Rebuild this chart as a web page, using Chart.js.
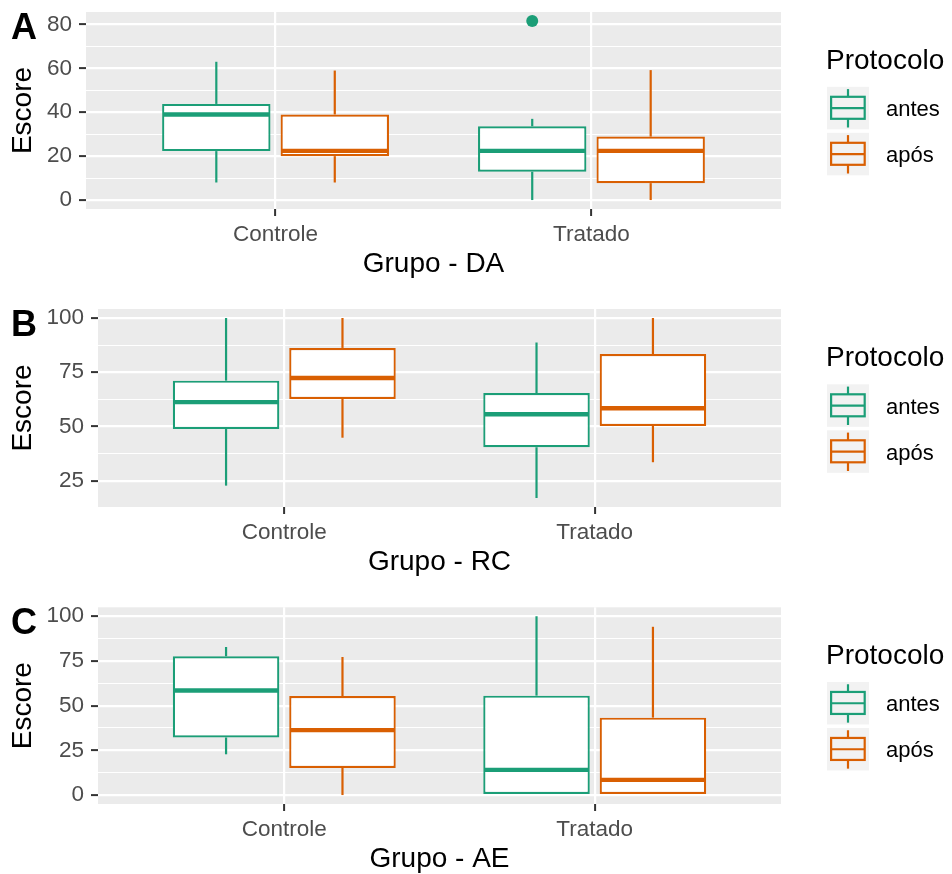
<!DOCTYPE html>
<html>
<head>
<meta charset="utf-8">
<script src="https://cdn.jsdelivr.net/npm/chart.js@4.4.1/dist/chart.umd.min.js"></script>
<style>
    html, body { margin: 0; padding: 0; background: #fff; overflow: hidden; }
    #wrap { position: relative; width: 952px; height: 874px; overflow: hidden; }
    canvas { position: absolute; left: 0; }
</style>
</head>
<body>
<div id="wrap">
    <canvas id="painelA" width="952" height="290" style="top:0px"></canvas>
    <canvas id="painelB" width="952" height="298" style="top:290px"></canvas>
    <canvas id="painelC" width="952" height="305" style="top:580px"></canvas>
</div>
<script>
const grupos = ['Controle', 'Tratado'];
const protocolos = ['antes', 'após'];
const cores = ['#1B9E77', '#D95F02'];

// cinco números por grupo: [mín, Q1, mediana, Q3, máx]
const daAntes = [[8, 22.3, 39, 43.8, 63], [0, 12.9, 22.4, 33.6, 37]];
const daApos = [[8, 20, 22.4, 39, 59], [0, 7.7, 22.4, 28.9, 59.2]];
const daAntesOut = [[], [81.6]];
const daAposOut = [[], []];

const rcAntes = [[22.7, 48.8, 61.2, 71.1, 100], [17, 40.4, 55.6, 65.4, 88.7]];
const rcApos = [[44.8, 62.7, 72.3, 86.2, 100], [33.5, 50.2, 58.4, 83.4, 100]];
const rcAntesOut = [[], []];
const rcAposOut = [[], []];

const aeAntes = [[22.8, 32.2, 58.5, 77.6, 82.8], [0, 0, 14.1, 55.6, 100]];
const aeApos = [[0, 15.2, 36.3, 55.4, 77.2], [0, 0, 8.5, 43.3, 94.1]];
const aeAntesOut = [[], []];
const aeAposOut = [[], []];

// marcas do eixo y (rótulo vazio = linha secundária)
const daTicks = [0, 10, 20, 30, 40, 50, 60, 70, 80];
const daRotulos = ['0', '', '20', '', '40', '', '60', '', '80'];
const rcTicks = [25, 37.5, 50, 62.5, 75, 87.5, 100];
const rcRotulos = ['25', '', '50', '', '75', '', '100'];
const aeTicks = [0, 12.5, 25, 37.5, 50, 62.5, 75, 87.5, 100];
const aeRotulos = ['0', '', '25', '', '50', '', '75', '', '100'];

const fonte = '"Liberation Sans", Arial, Helvetica, sans-serif';

function linha(ctx, x1, y1, x2, y2) {
    ctx.beginPath();
    ctx.moveTo(x1, y1);
    ctx.lineTo(x2, y2);
    ctx.stroke();
}

function criarPainel(id, letra, titulo, antes, apos, outAntes, outApos, ticks, rotulos, topo, larguraY) {
    const series = [antes, apos];
    const outs = [outAntes, outApos];
    const valores = antes.concat(apos).flat().concat(outAntes.flat(), outApos.flat());
    const lo = Math.min(...valores);
    const hi = Math.max(...valores);
    const margem = (hi - lo) * 0.05;

    const pluginPainel = {
        id: 'painel' + letra,
        beforeDraw(chart) {
            const {ctx, chartArea: a} = chart;
            ctx.save();
            ctx.fillStyle = '#EBEBEB';
            ctx.fillRect(a.left, a.top, a.right - a.left, a.bottom - a.top);
            ctx.restore();
        },
        afterDatasetsDraw(chart) {
            const {ctx} = chart;
            const y = chart.scales.y;
            ctx.save();
            series.forEach((s, k) => {
                const meta = chart.getDatasetMeta(k);
                meta.data.forEach((bar, i) => {
                    const v = s[i];
                    ctx.strokeStyle = cores[k];
                    ctx.lineWidth = 2.2;
                    if (v[4] > v[3]) linha(ctx, bar.x, y.getPixelForValue(v[3]), bar.x, y.getPixelForValue(v[4]));
                    if (v[1] > v[0]) linha(ctx, bar.x, y.getPixelForValue(v[1]), bar.x, y.getPixelForValue(v[0]));
                    const ym = y.getPixelForValue(v[2]);
                    ctx.lineWidth = 4.4;
                    linha(ctx, bar.x - bar.width / 2 + 1, ym, bar.x + bar.width / 2 - 1, ym);
                    ctx.fillStyle = cores[k];
                    outs[k][i].forEach(o => {
                        ctx.beginPath();
                        ctx.arc(bar.x, y.getPixelForValue(o), 6, 0, Math.PI * 2);
                        ctx.fill();
                    });
                });
            });
            ctx.restore();
        },
        afterDraw(chart) {
            const {ctx, chartArea: a} = chart;
            ctx.save();
            // letra do painel
            ctx.fillStyle = '#000';
            ctx.textBaseline = 'alphabetic';
            ctx.textAlign = 'left';
            ctx.font = 'bold 36px ' + fonte;
            ctx.fillText(letra, 11, a.top + 26.7);
            // legenda
            const cy = (a.top + a.bottom) / 2 + 0.8;
            ctx.font = '28px ' + fonte;
            ctx.fillText('Protocolo', 826, cy - 42.8);
            protocolos.forEach((p, k) => {
                const t = cy - 24.5 + k * 46;
                ctx.fillStyle = '#F2F2F2';
                ctx.fillRect(827, t, 42, 42.5);
                ctx.strokeStyle = cores[k];
                ctx.lineWidth = 2.2;
                const cx = 848;
                linha(ctx, cx, t + 2.3, cx, t + 10);
                linha(ctx, cx, t + 32, cx, t + 40.7);
                ctx.strokeRect(831.1, t + 10, 33.6, 22);
                linha(ctx, 831.1, t + 21.3, 864.7, t + 21.3);
                ctx.fillStyle = '#000';
                ctx.font = '22px ' + fonte;
                ctx.fillText(p, 886, t + 29.5);
            });
            ctx.restore();
        }
    };

    new Chart(document.getElementById(id), {
        type: 'bar',
        data: {
            datasets: series.map((s, k) => ({
                label: protocolos[k],
                data: s.map((v, i) => ({x: i + 1, y: [v[1], v[3]]})),
                backgroundColor: '#FFFFFF',
                borderColor: cores[k],
                borderWidth: 2.2,
                borderSkipped: false,
                categoryPercentage: 0.75,
                barPercentage: 0.915
            }))
        },
        options: {
            responsive: false,
            animation: false,
            layout: {padding: {top: topo, right: 171, left: 0, bottom: 0}},
            plugins: {legend: {display: false}, tooltip: {enabled: false}},
            scales: {
                x: {
                    type: 'linear',
                    min: 0.4,
                    max: 2.6,
                    offset: false,
                    afterBuildTicks: s => { s.ticks = grupos.map((g, i) => ({value: i + 1})); },
                    afterFit: s => { s.height = 81; s.paddingLeft = 0; s.paddingRight = 0; },
                    ticks: {
                        callback: (v, i) => grupos[i],
                        color: '#4D4D4D',
                        font: {size: 22.5, family: fonte},
                        padding: 5,
                        maxRotation: 0,
                        autoSkip: false
                    },
                    grid: {offset: false, color: '#FFFFFF', lineWidth: 2.2, tickColor: '#333333', tickLength: 7, tickWidth: 2},
                    border: {display: false},
                    title: {display: true, text: titulo, color: '#000', font: {size: 28, family: fonte}, padding: {top: 0, bottom: 9}}
                },
                y: {
                    min: lo - margem,
                    max: hi + margem,
                    afterBuildTicks: s => { s.ticks = ticks.map(v => ({value: v})); },
                    afterFit: s => { s.width = larguraY; s.paddingTop = 0; s.paddingBottom = 0; },
                    ticks: {
                        callback: (v, i) => rotulos[i],
                        color: '#4D4D4D',
                        font: {size: 22.5, family: fonte},
                        padding: 7,
                        autoSkip: false
                    },
                    grid: {
                        color: '#FFFFFF',
                        lineWidth: c => rotulos[c.index] ? 2.2 : 1.1,
                        tickColor: c => rotulos[c.index] ? '#333333' : 'rgba(0,0,0,0)',
                        tickLength: 7,
                        tickWidth: 2
                    },
                    border: {display: false},
                    title: {display: true, text: 'Escore', color: '#000', font: {size: 28, family: fonte}, padding: {top: 6, bottom: 0}}
                }
            }
        },
        plugins: [pluginPainel]
    });
}

criarPainel('painelA', 'A', 'Grupo - DA', daAntes, daApos, daAntesOut, daAposOut, daTicks, daRotulos, 12, 86);
criarPainel('painelB', 'B', 'Grupo - RC', rcAntes, rcApos, rcAntesOut, rcAposOut, rcTicks, rcRotulos, 19, 98);
criarPainel('painelC', 'C', 'Grupo - AE', aeAntes, aeApos, aeAntesOut, aeAposOut, aeTicks, aeRotulos, 27.3, 98);
</script>
</body>
</html>
